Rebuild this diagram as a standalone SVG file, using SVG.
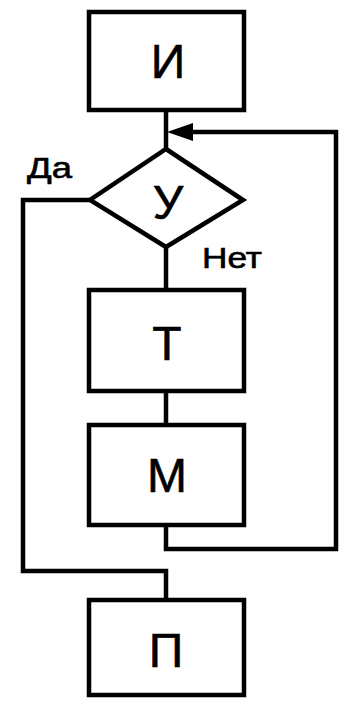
<svg xmlns="http://www.w3.org/2000/svg" width="341" height="701" viewBox="0 0 341 701">
<style>
.box{fill:#fff;stroke:#000;stroke-width:4.5}
.ln{fill:none;stroke:#000;stroke-width:4.5;stroke-linejoin:miter}
.big{font-family:"Liberation Sans",Arial,sans-serif;font-size:48px;fill:#000;stroke:#000;stroke-width:0.6;text-anchor:middle}
.lbl{font-family:"Liberation Sans",Arial,sans-serif;font-size:29px;fill:#000;stroke:#000;stroke-width:0.6}
</style>
<rect width="341" height="701" fill="#fff"/>
<g id="connectors">
<path class="ln" d="M166 112 V149"/>
<path class="ln" d="M166 247 V288"/>
<path class="ln" d="M166 393 V423"/>
<path class="ln" d="M166 525 V549 H336 V132 H188"/>
<polygon points="167,132 193,123 193,141" fill="#000"/>
<path class="ln" d="M90 200 H23 V571 H166 V598"/>
<text class="lbl" x="27" y="178" textLength="45" lengthAdjust="spacingAndGlyphs">Да</text>
<text class="lbl" x="202" y="268" textLength="60" lengthAdjust="spacingAndGlyphs">Нет</text>
</g>
<g id="node-I">
<rect class="box" x="89" y="12" width="155" height="98"/>
<text class="big" x="168" y="78">И</text>
</g>
<g id="node-U">
<polygon class="box" points="166,149 243,200 166,247 90,200"/>
<text class="big" x="168" y="219">У</text>
</g>
<g id="node-T">
<rect class="box" x="89" y="290" width="155" height="101"/>
<text class="big" x="167" y="360">Т</text>
</g>
<g id="node-M">
<rect class="box" x="89" y="425" width="155" height="100"/>
<text class="big" x="167" y="492">М</text>
</g>
<g id="node-P">
<rect class="box" x="89" y="600" width="155" height="95"/>
<text class="big" x="166" y="667">П</text>
</g>
</svg>
